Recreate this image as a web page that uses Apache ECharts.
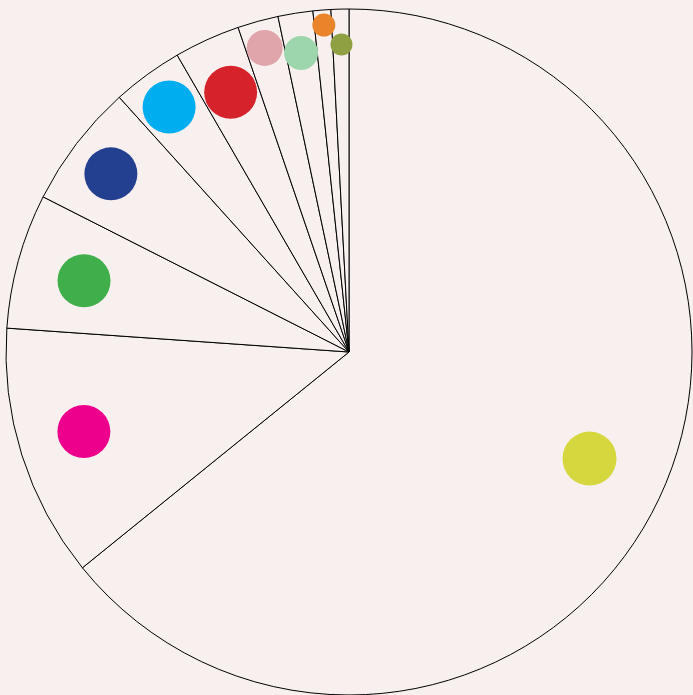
<!DOCTYPE html>
<html>
<head>
<meta charset="utf-8">
<script src="https://cdn.jsdelivr.net/npm/echarts@6/dist/echarts.min.js"></script>
<style>
html, body { margin: 0; padding: 0; background: #f7f0ee; }
#chart { width: 693px; height: 695px; }
</style>
</head>
<body>
<div id="chart"></div>
<script>
// slices, clockwise from 12 o'clock (shares in percent)
var names = ['A', 'B', 'C', 'D', 'E', 'F', 'G', 'H', 'I', 'J'];
var shares = [64.17, 11.94, 6.36, 5.85, 3.33, 3.11, 1.92, 1.64, 0.84, 0.84];
var colors = ['#d6d73f', '#ec008c', '#40ae4a', '#233f8f', '#00aeef', '#d6222a', '#e0a4ab', '#9dd5ad', '#e9842a', '#8fa042'];
// dots: angle (degrees clockwise from top) and distance from centre (fraction of radius)
var dotAngle = [113.9, 253.3, 285.05, 306.8, 323.7, 335.5, 344.5, 350.9, 355.6, 358.6];
var dotRadius = [0.767, 0.807, 0.80, 0.867, 0.886, 0.832, 0.92, 0.883, 0.956, 0.897];
var dotSize = [54, 53, 53, 53, 53, 53, 36, 34, 23, 22];

var pieData = [];
var dots = [];
for (var i = 0; i < shares.length; i++) {
	pieData.push({ name: names[i], value: shares[i] });
	dots.push({
		value: [dotRadius[i], dotAngle[i]],
		symbolSize: dotSize[i],
		itemStyle: { color: colors[i], opacity: 1 }
	});
}

var chart = echarts.init(document.getElementById('chart'));

var option = {
	backgroundColor: '#f7f0ee',
	animation: false,
	polar: {
		center: [349, 352],
		radius: 343
	},
	angleAxis: {
		type: 'value',
		min: 0,
		max: 360,
		startAngle: 90,
		clockwise: true,
		show: false
	},
	radiusAxis: {
		type: 'value',
		min: 0,
		max: 1,
		show: false
	},
	series: [{
		type: 'pie',
		center: [349, 352],
		radius: [0, 343],
		startAngle: 90,
		clockwise: true,
		label: { show: false },
		labelLine: { show: false },
		emphasis: { disabled: true },
		itemStyle: {
			color: '#f7f0ee',
			borderColor: '#000',
			borderWidth: 1
		},
		data: pieData
	}, {
		type: 'scatter',
		coordinateSystem: 'polar',
		symbol: 'circle',
		emphasis: { disabled: true },
		data: dots,
		z: 5
	}]
};

chart.setOption(option);
</script>
</body>
</html>
